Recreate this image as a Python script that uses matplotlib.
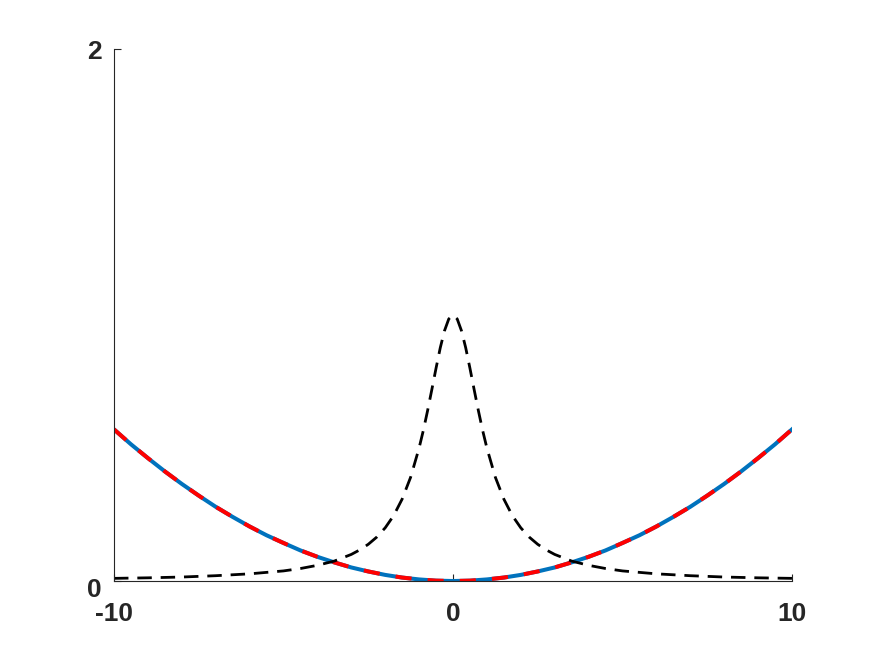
import matplotlib.pyplot as plt
import matplotlib.transforms as mtransforms
import numpy as np

# x positions and curve values
x_par = [-10, -9.5, -9, -8.5, -8, -7.5, -7, -6.5, -6, -5.5, -5, -4.5, -4, -3.5, -3,
         -2.5, -2, -1.5, -1, -0.5, 0, 0.5, 1, 1.5, 2, 2.5, 3, 3.5, 4, 4.5, 5,
         5.5, 6, 6.5, 7, 7.5, 8, 8.5, 9, 9.5, 10]
y_par = [0.570, 0.514, 0.462, 0.412, 0.365, 0.321, 0.279, 0.241, 0.205, 0.172,
         0.143, 0.115, 0.091, 0.070, 0.051, 0.036, 0.023, 0.013, 0.006, 0.0014,
         0.0, 0.0014, 0.006, 0.013, 0.023, 0.036, 0.051, 0.070, 0.091, 0.115,
         0.143, 0.172, 0.205, 0.241, 0.279, 0.321, 0.365, 0.412, 0.462, 0.514, 0.570]

x_peak = [-10, -9, -8, -7, -6, -5, -4.5, -4, -3.5, -3, -2.75, -2.5, -2.25, -2, -1.75,
          -1.5, -1.25, -1, -0.875, -0.75, -0.625, -0.5, -0.375, -0.25, -0.125, 0,
          0.125, 0.25, 0.375, 0.5, 0.625, 0.75, 0.875, 1, 1.25, 1.5,
          1.75, 2, 2.25, 2.5, 2.75, 3, 3.5, 4, 4.5, 5, 6, 7, 8, 9, 10]
y_peak = [0.010, 0.012, 0.015, 0.020, 0.027, 0.038, 0.047, 0.059, 0.075, 0.100,
          0.117, 0.138, 0.165, 0.200, 0.246, 0.308, 0.390, 0.500, 0.566, 0.640,
          0.719, 0.800, 0.877, 0.941, 0.985, 1.000, 0.985, 0.941, 0.877, 0.800,
          0.719, 0.640, 0.566, 0.500, 0.390, 0.308, 0.246, 0.200,
          0.165, 0.138, 0.117, 0.100, 0.075, 0.059, 0.047, 0.038, 0.027, 0.020,
          0.015, 0.012, 0.010]

x_ticks = [-10, 0, 10]
y_ticks = [0, 2]

plt.rcParams['font.family'] = ['Liberation Sans', 'DejaVu Sans']
plt.rcParams['axes.unicode_minus'] = False

fig = plt.figure(figsize=(8.75, 6.56), dpi=100)
ax = fig.add_axes([0.1303, 0.1143, 0.7748, 0.811])

ax.plot(x_par, y_par, color='#0072BD', lw=2.9)
ax.plot(x_par, y_par, color='#FF0000', lw=2.9, dashes=(4, 4))
ax.plot(x_peak, y_peak, color='black', lw=2, dashes=(5.2, 3.2))

ax.set_xlim(-10, 10)
ax.set_ylim(0, 2)
ax.set_xticks(x_ticks)
ax.set_yticks(y_ticks)

for s in ['top', 'right']:
    ax.spines[s].set_visible(False)
for s in ['left', 'bottom']:
    ax.spines[s].set_color('#262626')
    ax.spines[s].set_linewidth(0.8)

ax.tick_params(direction='in', length=5, width=0.8, color='#262626',
               labelcolor='#262626', labelsize=19)
ax.tick_params(axis='x', pad=15)
ax.tick_params(axis='y', pad=9)
for lab in ax.get_xticklabels() + ax.get_yticklabels():
    lab.set_fontweight('bold')

# MATLAB nudges the lowest y label down a little
ylabs = ax.get_yticklabels()
ylabs[0].set_transform(ylabs[0].get_transform() +
                       mtransforms.ScaledTranslation(0, -6 / 100, fig.dpi_scale_trans))

plt.savefig('out.png', dpi=100)
